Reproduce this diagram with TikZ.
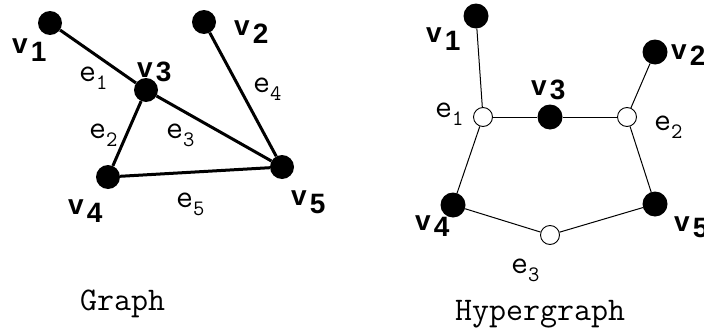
\documentclass[tikz,border=0pt]{standalone}
\usepackage{fontspec}
\newfontfamily\vfont{Liberation Sans}
\usetikzlibrary{positioning}

\newcommand{\vlab}[2][8pt]{{\fontsize{28}{28}\vfont\bfseries v\hspace{3pt}\raisebox{-#1}{#2}}}
\newcommand{\elab}[1]{{\fontsize{33}{33}\ttfamily e\raisebox{-8pt}{\fontsize{22}{22}\selectfont #1}}}

\begin{document}
\begin{tikzpicture}[x=1pt, y=-1pt,
  vtx/.style={circle, fill=black, inner sep=0pt, minimum size=24pt},
  hvtx/.style={circle, fill=black, inner sep=0pt, minimum size=25pt},
  hedg/.style={circle, draw=black, fill=white, line width=0.9pt, inner sep=0pt, minimum size=19pt},
  lab/.style={anchor=base west, inner sep=0pt},
  title/.style={anchor=base west, inner sep=0pt, font=\fontsize{33}{33}\ttfamily},
  gline/.style={line width=3pt},
  hline/.style={line width=1pt}
]
  \useasboundingbox (0,0) rectangle (704,332);
  \clip (0,0) rectangle (704,332);

  % graph
  \node[vtx] (g1) at (50,23) {};
  \node[vtx] (g2) at (204,22) {};
  \node[vtx] (g3) at (146,90) {};
  \node[vtx] (g4) at (108,177) {};
  \node[vtx] (g5) at (282,167) {};

  \draw[gline] (g1) -- (g3);
  \draw[gline] (g3) -- (g4);
  \draw[gline] (g3) -- (g5);
  \draw[gline] (g2) -- (g5);
  \draw[gline] (g4) -- (g5);

  \node[lab] (gl1) at (12,53) {\vlab{1}};
  \node[lab] (gl2) at (234,35) {\vlab{2}};
  \node[lab] (gl3) at (137,77) {\vlab[4pt]{3}};
  \node[lab] (gl4) at (68,214) {\vlab{4}};
  \node[lab] (gl5) at (291,205) {\vlab{5}};

  \node[lab] (ge1) at (79,81) {\elab{1}};
  \node[lab] (ge2) at (89,138) {\elab{2}};
  \node[lab] (ge3) at (166,138) {\elab{3}};
  \node[lab] (ge4) at (253,92) {\elab{4}};
  \node[lab] (ge5) at (176,207) {\elab{5}};

  % hypergraph
  \node[hvtx] (h1) at (476,16) {};
  \node[hvtx] (h2) at (655,52) {};
  \node[hvtx] (h3) at (550,117) {};
  \node[hvtx] (h4) at (453,205) {};
  \node[hvtx] (h5) at (655,204) {};
  \node[hedg] (he1) at (483,117) {};
  \node[hedg] (he2) at (627,117) {};
  \node[hedg] (he3) at (550,235) {};

  \draw[hline] (h1) -- (he1);
  \draw[hline] (he1) -- (h3);
  \draw[hline] (h3) -- (he2);
  \draw[hline] (he2) -- (h2);
  \draw[hline] (he1) -- (h4);
  \draw[hline] (he2) -- (h5);
  \draw[hline] (h4) -- (he3);
  \draw[hline] (he3) -- (h5);

  \node[lab] (hl1) at (426,42) {\vlab{1}};
  \node[lab] (hl2) at (671,59) {\vlab[6pt]{2}};
  \node[lab] (hl3) at (531,95) {\vlab[4pt]{3}};
  \node[lab] (hl4) at (415,230) {\vlab[6pt]{4}};
  \node[lab] (hl5) at (674,231) {\vlab[6pt]{5}};

  \node[lab] (hn1) at (435,117) {\elab{1}};
  \node[lab] (hn2) at (654,130) {\elab{2}};
  \node[lab] (hn3) at (511,273) {\elab{3}};

  % titles
  \node[title] (gtitle) at (80,310) {Graph};
  \node[title] (htitle) at (455,320) {Hypergraph};
\end{tikzpicture}
\end{document}
